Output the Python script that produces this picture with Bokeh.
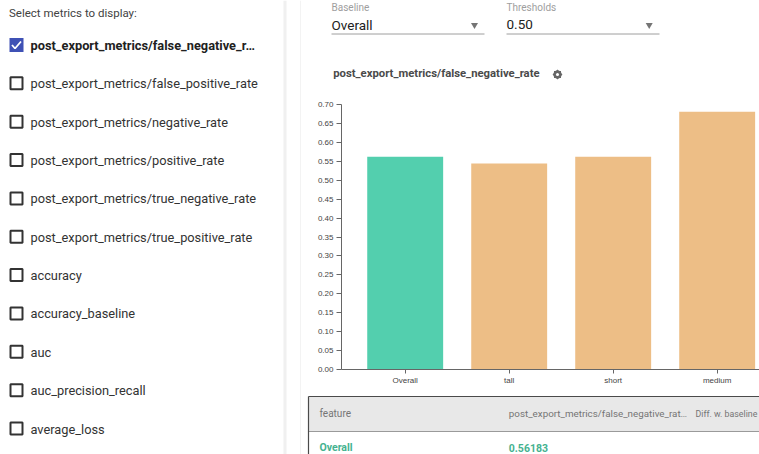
from bokeh.plotting import figure
from bokeh.models import Range1d, FixedTicker, PrintfTickFormatter
from bokeh.layouts import row, column
from bokeh.embed import file_html
from bokeh.resources import INLINE
from bokeh.core.properties import value

# ---------------- data ----------------
metric_names = [
    "post_export_metrics/false_negative_rate",
    "post_export_metrics/false_positive_rate",
    "post_export_metrics/negative_rate",
    "post_export_metrics/positive_rate",
    "post_export_metrics/true_negative_rate",
    "post_export_metrics/true_positive_rate",
    "accuracy",
    "accuracy_baseline",
    "auc",
    "auc_precision_recall",
    "average_loss",
]
selected_metric = "post_export_metrics/false_negative_rate"
slices = ["Overall", "tall", "short", "medium"]
fnr_values = [0.56183, 0.544, 0.562, 0.681]
baseline_slice = "Overall"
threshold_label = "0.50"
y_tick_values = [0.00, 0.05, 0.10, 0.15, 0.20, 0.25, 0.30, 0.35, 0.40, 0.45,
                 0.50, 0.55, 0.60, 0.65, 0.70]
table_headers = ["feature", "post_export_metrics/false_negative_rate", "Diff. w. baseline"]

# ---------------- styles ----------------
UI_FONT = value("Roboto")
AX_FONT = "Liberation Sans"
GREEN = "#53CFAE"
ORANGE = "#EDBE86"
GREEN_TEXT = "#45B28F"


def panel(w, h):
    p = figure(width=w, height=h, x_range=Range1d(0, w), y_range=Range1d(h, 0),
               output_backend="svg", toolbar_location=None,
               x_axis_location=None, y_axis_location=None,
               min_border=0, outline_line_color=None, frame_align=False)
    p.grid.visible = False
    p.background_fill_color = "white"
    p.border_fill_color = "white"
    return p


def txt(p, x, y, s, size, color, style="normal"):
    p.text(x=[x], y=[y], text=[s], text_font=UI_FONT, text_font_size=size,
           text_color=color, text_font_style=style,
           text_baseline="middle", text_align="left")


def ellip(s, n):
    return s if len(s) <= n else s[:n] + "\u2026"


# ---------------- left panel ----------------
LW, H = 301, 454
left = panel(LW, H)
txt(left, 8.5, 12, "Select metrics to display:", "11.5px", "#424242")
row_y = [45 + 38.35 * i for i in range(len(metric_names))]
for name, y in zip(metric_names, row_y):
    if name == selected_metric:
        left.rect(x=[16], y=[y - 0.5], width=14, height=14, fill_color="#3F51B5", line_color=None)
        left.line(x=[11.5, 14.5, 20.5], y=[y - 0.5, y + 3.0, y - 4.0], line_color="white", line_width=1.8)
        txt(left, 30, y, ellip(name, 36), "12.8px", "#212121", "bold")
    else:
        left.rect(x=[16], y=[y - 0.5], width=12, height=12, fill_color=None,
                  line_color="#333333", line_width=2)
        txt(left, 30, y, name, "12.8px", "#333333")
left.quad(left=[283], right=[286], top=[0], bottom=[H], fill_color="#f0f0f0", line_color=None)
left.quad(left=[299.5], right=[301], top=[0], bottom=[H], fill_color="#f3f3f3", line_color=None)

# ---------------- controls + title ----------------
RW = 458
top = panel(RW, 96)
txt(top, 30, 7, "Baseline", "10px", "#9e9e9e")
txt(top, 30, 24, baseline_slice, "13.5px", "#212121")
top.scatter(x=[173], y=[24.5], marker="inverted_triangle", size=7, fill_color="#757575", line_color=None)
top.line(x=[30, 183], y=[33.5, 33.5], line_color="#9e9e9e", line_width=1)
txt(top, 205, 7, "Thresholds", "10px", "#9e9e9e")
txt(top, 205, 24, threshold_label, "13.5px", "#212121")
top.scatter(x=[347.7], y=[24.5], marker="inverted_triangle", size=7, fill_color="#757575", line_color=None)
top.line(x=[205, 358], y=[33.5, 33.5], line_color="#9e9e9e", line_width=1)
txt(top, 31.7, 73.3, selected_metric, "11.3px", "#4a4a4a", "bold")
# gear icon
top.scatter(x=[256, 256], y=[74, 74], marker="square", size=7, angle=[0, 0.785],
            fill_color="#666666", line_color=None)
top.scatter(x=[256], y=[74], marker="circle", size=8, fill_color="#666666", line_color=None)
top.scatter(x=[256], y=[74], marker="circle", size=3, fill_color="white", line_color=None)

# ---------------- bar chart ----------------
xs = [i + 0.5 for i in range(len(slices))]
bar_colors = [GREEN if s == baseline_slice else ORANGE for s in slices]
chart = figure(width=RW, height=296, x_range=Range1d(-0.1125, 3.907), y_range=Range1d(0, 0.70),
               output_backend="svg", toolbar_location=None,
               min_border_left=40, min_border_right=0, min_border_top=8, min_border_bottom=23,
               outline_line_color=None, frame_align=False)
chart.grid.visible = False
chart.vbar(x=xs, top=fnr_values, width=0.73, fill_color=bar_colors, line_color=None)

yax = chart.yaxis[0]
yax.ticker = FixedTicker(ticks=y_tick_values, minor_ticks=[])
yax.formatter = PrintfTickFormatter(format="%.2f")
xax = chart.xaxis[0]
xax.ticker = FixedTicker(ticks=xs, minor_ticks=[])
xax.major_label_overrides = {x: s for x, s in zip(xs, slices)}
for ax, tick_out, standoff in ((yax, 5, 3), (xax, 4, 2)):
    ax.axis_line_color = "#666666"
    ax.major_tick_line_color = "#666666"
    ax.major_tick_out = tick_out
    ax.major_tick_in = 0
    ax.minor_tick_line_color = None
    ax.major_label_standoff = standoff
    ax.major_label_text_font = AX_FONT
    ax.major_label_text_font_size = "8px"
    ax.major_label_text_color = "#444444"

# ---------------- table ----------------
table = panel(RW, 62)
table.quad(left=[7], right=[RW], top=[4], bottom=[39], fill_color="#e8e8e8", line_color=None)
table.line(x=[7, RW], y=[39, 39], line_color="#9a9a9a", line_width=1)
table.line(x=[7, RW], y=[4, 4], line_color="#4a4a4a", line_width=1.2)
table.line(x=[7, 7], y=[4, 62], line_color="#4a4a4a", line_width=1.2)
col_x = [18, 207.3, 394]
txt(table, col_x[0], 21.3, table_headers[0], "10px", "#757575")
txt(table, col_x[1], 21.3, ellip(table_headers[1], 38), "9.8px", "#757575")
txt(table, col_x[2], 21.3, table_headers[2], "8.8px", "#757575")
txt(table, col_x[0], 55.3, slices[0], "10.5px", GREEN_TEXT, "bold")
txt(table, col_x[1], 55.3, f"{fnr_values[0]:.5f}", "10.5px", GREEN_TEXT, "bold")

layout = row(left, column(top, chart, table))
open("out.html", "w").write(file_html(layout, INLINE))
